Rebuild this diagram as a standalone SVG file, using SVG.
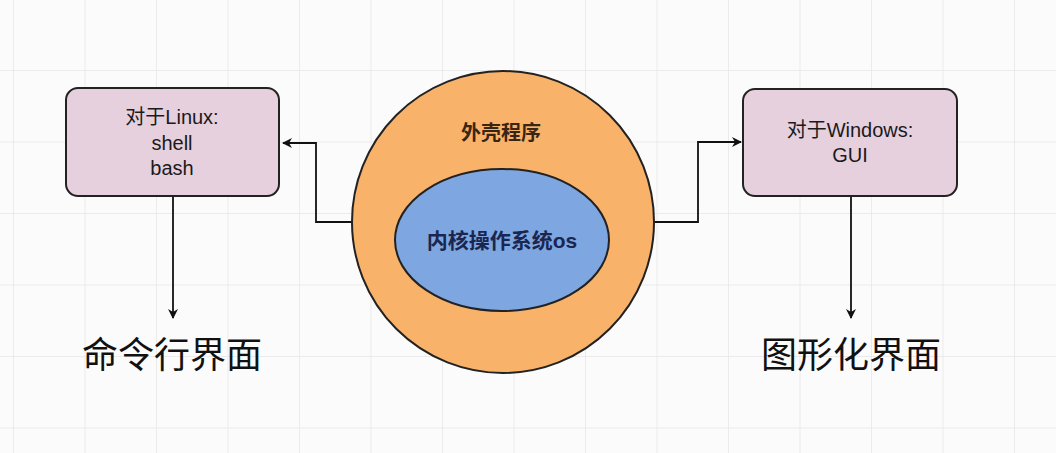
<svg xmlns="http://www.w3.org/2000/svg" width="1056" height="453" viewBox="0 0 1056 453">
<style>
.grid{stroke:#e6e6e6;stroke-width:1.5}
.box{fill:#e6d0de;stroke:#222;stroke-width:2}
.t{font-family:"Liberation Sans","Noto Sans CJK SC",sans-serif;font-size:20px;fill:#1a1a1a;text-anchor:middle}
.in{font-family:"Liberation Sans","Noto Sans CJK SC",sans-serif;font-size:21px;font-weight:bold;text-anchor:middle}
.big{font-family:"Noto Sans CJK SC",sans-serif;font-size:36px;fill:#111;text-anchor:middle}
.conn{fill:none;stroke:#111;stroke-width:1.8}
</style>
<defs>
<marker id="arr" viewBox="0 0 10 10" refX="9" refY="5" markerWidth="10" markerHeight="10" markerUnits="userSpaceOnUse" orient="auto">
<path d="M0,0 L10,5 L0,10 L3,5 Z" fill="#111"/>
</marker>
<pattern id="g" x="13" y="-1.5" width="71.5" height="71.5" patternUnits="userSpaceOnUse">
<path d="M0,0 V71.5 M0,0 H71.5" class="grid"/>
</pattern>
</defs>
<rect width="1056" height="453" fill="#fbfbfc"/>
<rect width="1056" height="453" fill="url(#g)"/>
<g id="connectors">
<path class="conn" d="M352,222 H316 V143 H283" marker-end="url(#arr)"/>
<path class="conn" d="M655,222 H698 V142 H741" marker-end="url(#arr)"/>
<path class="conn" d="M173,196 V318" marker-end="url(#arr)"/>
<path class="conn" d="M851,196 V318" marker-end="url(#arr)"/>
</g>
<g id="linux">
<rect class="box" x="66" y="88" width="213" height="108" rx="12"/>
<text class="t" x="172" y="124">对于Linux:</text>
<text class="t" x="172" y="150">shell</text>
<text class="t" x="172" y="175">bash</text>
</g>
<g id="windows">
<rect class="box" x="743" y="89" width="214" height="107" rx="12"/>
<text class="t" x="850" y="137">对于Windows:</text>
<text class="t" x="850" y="162">GUI</text>
</g>
<g id="shell">
<circle cx="503" cy="222" r="151" fill="#f8b26a" stroke="#222" stroke-width="2"/>
<text class="in" x="501" y="140" style="fill:#3a2412;font-size:20px">外壳程序</text>
</g>
<g id="kernel">
<ellipse cx="502" cy="240" rx="107" ry="71" fill="#7ea6e0" stroke="#222" stroke-width="2"/>
<text class="in" x="502" y="248" style="fill:#1a2650">内核操作系统os</text>
</g>
<g id="cli"><text class="big" x="172" y="368">命令行界面</text></g>
<g id="gui"><text class="big" x="851" y="368">图形化界面</text></g>
</svg>
